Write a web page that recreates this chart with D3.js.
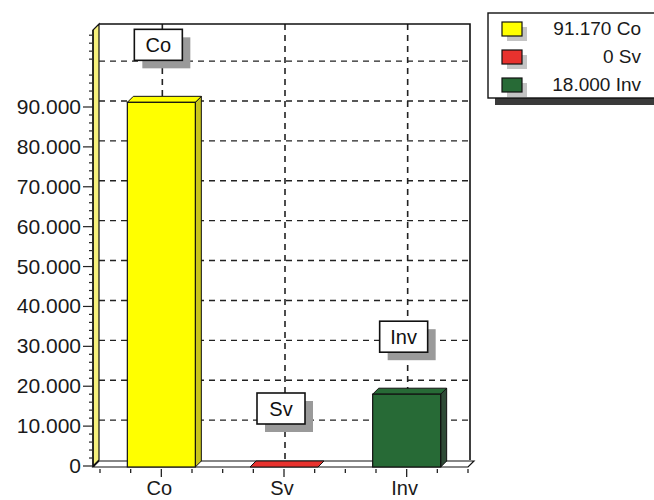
<!DOCTYPE html>
<html><head><meta charset="utf-8">
<script src="https://cdn.jsdelivr.net/npm/d3@7"></script>
<style>body{margin:0;background:#fff}svg{display:block;font-family:"Liberation Sans",Arial,sans-serif}</style>
</head><body><svg id="c" width="654" height="500"></svg>
<script>
const categories = ["Co", "Sv", "Inv"];
const values = [91170, 0, 18000];
const colors = ["#ffff00", "#e8322e", "#276a36"];
const sideColors = ["#c9c51a", "#a02020", "#2e4a36"];
const yTicks = [0,10000,20000,30000,40000,50000,60000,70000,80000,90000];
const gridValues = [10000,20000,30000,40000,50000,60000,70000,80000,90000,100000];

const loc = d3.formatLocale({decimal:",", thousands:".", grouping:[3], currency:["",""]});
const fmt = loc.format(",");

const svg = d3.select("#c");
const dx = 6, dy = -6;
const y = d3.scaleLinear().domain([0, 90000]).range([466, 107]);
const x = d3.scaleBand().domain(categories).range([100, 468]);
const xl = 93, xr = 466, yb = y(0), ytop = 24;
const barW = 68;

// back wall
svg.append("rect").attr("x", xl+dx).attr("y", ytop).attr("width", 470-(xl+dx)).attr("height", yb+dy-ytop).attr("fill","#fff");
// left wall
svg.append("polygon").attr("points", [[xl, yb],[xl, ytop-dy],[xl+dx, ytop],[xl+dx, yb+dy]].join(" "))
  .attr("fill","#f6f07c").attr("stroke","#111").attr("stroke-width",1.2);

// horizontal grid on back wall
svg.selectAll(".hg").data(gridValues).join("line")
  .attr("x1", xl+dx).attr("x2", 470).attr("y1", d=>y(d)+dy).attr("y2", d=>y(d)+dy)
  .attr("stroke","#222").attr("stroke-width",1.4).attr("stroke-dasharray","6,5");
// vertical grid
svg.selectAll(".vg").data(categories).join("line")
  .attr("x1", d=>x(d)+x.bandwidth()/2+1).attr("x2", d=>x(d)+x.bandwidth()/2+1)
  .attr("y1", ytop).attr("y2", yb+dy)
  .attr("stroke","#222").attr("stroke-width",1.6).attr("stroke-dasharray","6,5");

// back wall border
svg.append("path").attr("d", `M${xl+dx},${ytop}H470V${yb+dy}`).attr("fill","none").attr("stroke","#111").attr("stroke-width",1.6);

// floor
svg.append("polygon").attr("points", [[xl, yb+1],[xr+2, yb+1],[xr+2+dx, yb+1+dy],[xl+dx, yb+1+dy]].join(" "))
  .attr("fill","#fff").attr("stroke","#111").attr("stroke-width",1.2);

// bars
const bars = svg.selectAll(".bar").data(categories).join("g");
bars.each(function(c, i){
  const g = d3.select(this);
  const cx = x(c) + x.bandwidth()/2;
  const x0 = cx - barW/2, x1 = cx + barW/2;
  const yt = y(values[i]), ybt = yb + 1;
  if (values[i] > 0) {
    g.append("polygon").attr("points", [[x1, ybt],[x1, yt],[x1+dx, yt+dy],[x1+dx, ybt+dy]].join(" "))
      .attr("fill", sideColors[i]).attr("stroke","#111").attr("stroke-width",1);
    g.append("polygon").attr("points", [[x0, yt],[x1, yt],[x1+dx, yt+dy],[x0+dx, yt+dy]].join(" "))
      .attr("fill", colors[i]).attr("stroke","#111").attr("stroke-width",1);
    g.append("rect").attr("x", x0).attr("y", yt).attr("width", barW).attr("height", ybt-yt)
      .attr("fill", colors[i]).attr("stroke","#111").attr("stroke-width",1.2);
  } else {
    g.append("polygon").attr("points", [[x0, ybt],[x1, ybt],[x1+dx, ybt+dy],[x0+dx, ybt+dy]].join(" "))
      .attr("fill", colors[i]).attr("stroke","#111").attr("stroke-width",1);
  }
  // label box
  const bw = 48, bh = 31;
  const bx = cx - 3 - bw/2, by = yt - 42 - bh;
  g.append("rect").attr("x", bx+8).attr("y", by+8).attr("width", bw).attr("height", bh).attr("fill","#9a9a9a");
  g.append("rect").attr("x", bx).attr("y", by).attr("width", bw).attr("height", bh).attr("fill","#fff").attr("stroke","#111").attr("stroke-width",1.6);
  g.append("text").attr("x", bx+bw/2).attr("y", by+bh/2+7).attr("text-anchor","middle").attr("font-size",20).attr("fill","#111").text(c);
});

// y axis
svg.append("line").attr("x1", xl).attr("x2", xl).attr("y1", ytop-dy).attr("y2", yb+1).attr("stroke","#111").attr("stroke-width",1.4);
const minor = d3.range(0, 110001, 2000).filter(v => v % 10000 !== 0 && y(v) > ytop-dy);
svg.selectAll(".mt").data(minor).join("line")
  .attr("x1", xl-4).attr("x2", xl-1).attr("y1", d=>y(d)).attr("y2", d=>y(d)).attr("stroke","#222").attr("stroke-width",1.2);
svg.selectAll(".Mt").data(yTicks).join("line")
  .attr("x1", xl-10).attr("x2", xl).attr("y1", d=>y(d)).attr("y2", d=>y(d)).attr("stroke","#222").attr("stroke-width",1.2);
svg.selectAll(".yl").data(yTicks).join("text")
  .attr("x", xl-12).attr("y", d=>y(d)+7).attr("text-anchor","end").attr("font-size",21).attr("fill","#1a1a1a")
  .text(d=>fmt(d));

// x ticks
const bwid = x.bandwidth();
const xt = d3.range(0, categories.length*4+1).map(k => 100 + k*bwid/4);
svg.selectAll(".xt").data(xt).join("line")
  .attr("x1", d=>d).attr("x2", d=>d).attr("y1", yb+3).attr("y2", (d,k)=> k%4===2 ? yb+11 : yb+7)
  .attr("stroke","#222").attr("stroke-width",1.3);
svg.selectAll(".xl").data(categories).join("text")
  .attr("x", d=>x(d)+bwid/2-2).attr("y", 495).attr("text-anchor","middle").attr("font-size",20).attr("fill","#1a1a1a").text(d=>d);

// legend
const lg = svg.append("g");
lg.append("rect").attr("x", 495).attr("y", 97).attr("width", 160).attr("height", 8).attr("fill","#3a3a3a");
lg.append("rect").attr("x", 488).attr("y", 13).attr("width", 170).attr("height", 85).attr("fill","#fff").attr("stroke","#111").attr("stroke-width",1.4);
categories.forEach((c, i) => {
  const ry = 22 + i*28;
  lg.append("rect").attr("x", 507).attr("y", ry+5).attr("width", 20).attr("height", 14).attr("fill","#c4c4c4");
  lg.append("rect").attr("x", 502).attr("y", ry).attr("width", 20).attr("height", 14).attr("fill", colors[i]).attr("stroke","#111").attr("stroke-width",1.2);
  lg.append("text").attr("x", 641).attr("y", ry+13).attr("text-anchor","end").attr("font-size",19).attr("fill","#1a1a1a")
    .text(fmt(values[i]) + " " + c);
});
</script></body></html>
